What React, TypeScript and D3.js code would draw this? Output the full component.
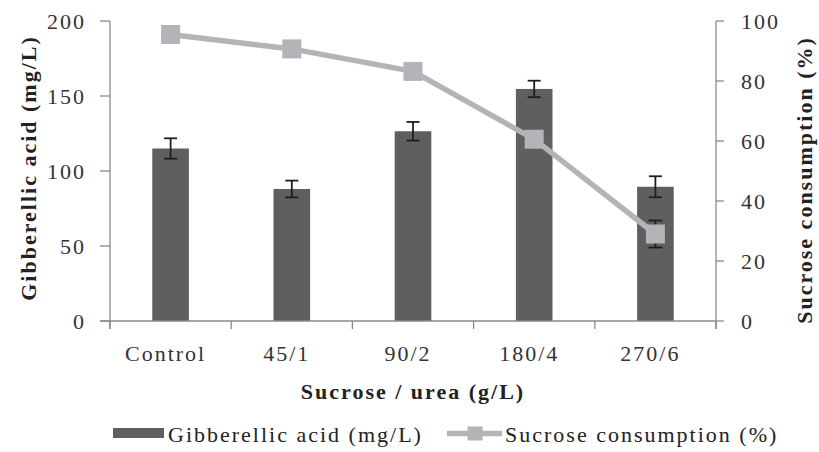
import React from "react";
import * as d3 from "d3";

const categories = ["Control", "45/1", "90/2", "180/4", "270/6"];
const gaValues = [115, 88, 126.5, 154.7, 89.5];
const gaErrors = [6.8, 5.6, 6.2, 5.5, 7];
const sucroseValues = [95.5, 90.7, 83.2, 60.6, 29];
const sucroseErrors = [1, 1, 1.5, 2, 4.5];
const leftTicks = [0, 50, 100, 150, 200];
const rightTicks = [0, 20, 40, 60, 80, 100];

const W = 819;
const H = 452;
const M = { left: 110, right: 716, top: 21, bottom: 321 };

const FONT = "'Liberation Serif', 'Times New Roman', serif";
const BAR = "#5f5f5f";
const LINE = "#b4b4b8";
const AXIS = "#8a8a8a";
const ERR = "#1e1e1e";

export default function App() {
  const x = d3.scaleBand<string>().domain(categories).range([M.left, M.right]);
  const yL = d3.scaleLinear().domain([0, 200]).range([M.bottom, M.top]);
  const yR = d3.scaleLinear().domain([0, 100]).range([M.bottom, M.top]);
  const barW = 36.6;
  const cx = (c: string) => (x(c) as number) + x.bandwidth() / 2;
  const line = d3
    .line<number>()
    .x((_, i) => cx(categories[i]))
    .y((d) => yR(d));
  const textStyle: React.CSSProperties = {
    fontFamily: FONT,
    fontSize: 22,
    letterSpacing: 2,
    whiteSpace: "pre",
  };
  const boundaries = categories.map((c) => (x(c) as number)).concat([M.right]);

  return (
    <svg
      width={W}
      height={H}
      style={{ position: "absolute", left: 0, top: 0, background: "#fff" }}
    >
      {/* bars */}
      {categories.map((c, i) => (
        <rect
          key={c}
          x={cx(c) - barW / 2}
          y={yL(gaValues[i])}
          width={barW}
          height={M.bottom - yL(gaValues[i])}
          fill={BAR}
        />
      ))}
      {/* bar errors */}
      {categories.map((c, i) => {
        const t = yL(gaValues[i] + gaErrors[i]);
        const b = yL(gaValues[i] - gaErrors[i]);
        return (
          <g key={"e" + c} stroke={ERR} strokeWidth={1.8}>
            <line x1={cx(c)} x2={cx(c)} y1={t} y2={b} />
            <line x1={cx(c) - 6.5} x2={cx(c) + 6.5} y1={t} y2={t} />
            <line x1={cx(c) - 6.5} x2={cx(c) + 6.5} y1={b} y2={b} />
          </g>
        );
      })}
      {/* axes */}
      <g stroke={AXIS} strokeWidth={1.3} fill="none">
        <line x1={M.left} x2={M.left} y1={M.top} y2={M.bottom + 8} />
        <line x1={M.right} x2={M.right} y1={M.top} y2={M.bottom + 8} />
        <line x1={M.left - 10} x2={M.right} y1={M.bottom} y2={M.bottom} />
        {leftTicks.map((t) => (
          <line key={"lt" + t} x1={M.left - 10} x2={M.left} y1={yL(t)} y2={yL(t)} />
        ))}
        {rightTicks.map((t) => (
          <line key={"rt" + t} x1={M.right} x2={M.right + 8} y1={yR(t)} y2={yR(t)} />
        ))}
        {boundaries.map((b, i) => (
          <line key={"bt" + i} x1={b} x2={b} y1={M.bottom} y2={M.bottom + 8} />
        ))}
      </g>
      {/* sucrose line */}
      <path d={line(sucroseValues) || ""} fill="none" stroke={LINE} strokeWidth={5.5} />
      {categories.map((c, i) => {
        const t = yR(sucroseValues[i] + sucroseErrors[i]);
        const b = yR(sucroseValues[i] - sucroseErrors[i]);
        return (
          <g key={"le" + c} stroke={ERR} strokeWidth={1.8}>
            <line x1={cx(c)} x2={cx(c)} y1={t} y2={b} />
            <line x1={cx(c) - 7} x2={cx(c) + 7} y1={t} y2={t} />
            <line x1={cx(c) - 7} x2={cx(c) + 7} y1={b} y2={b} />
          </g>
        );
      })}
      {categories.map((c, i) => (
        <rect
          key={"m" + c}
          x={cx(c) - 9.5}
          y={yR(sucroseValues[i]) - 9.5}
          width={19}
          height={19}
          fill={LINE}
        />
      ))}
      {/* tick labels */}
      <g style={textStyle} fill="#333">
        {leftTicks.map((t) => (
          <text key={"ll" + t} x={86} y={yL(t)} dy="0.35em" textAnchor="end">
            {t}
          </text>
        ))}
        {rightTicks.map((t) => (
          <text key={"rl" + t} x={741} y={yR(t)} dy="0.35em" textAnchor="start">
            {t}
          </text>
        ))}
        {categories.map((c) => (
          <text key={"cl" + c} x={cx(c) - 5} y={361} textAnchor="middle">
            {c}
          </text>
        ))}
      </g>
      {/* axis titles */}
      <g style={{ ...textStyle, fontWeight: "bold" }} fill="#222">
        <text x={413} y={399} textAnchor="middle">
          Sucrose / urea (g/L)
        </text>
        <text transform="translate(36,168) rotate(-90)" textAnchor="middle">
          {"Gibberellic  acid (mg/L)"}
        </text>
        <text transform="translate(812,180) rotate(-90)" textAnchor="middle">
          {"Sucrose consumption  (%)"}
        </text>
      </g>
      {/* legend */}
      <g style={textStyle} fill="#222">
        <rect x={113} y={428} width={51} height={10} fill={BAR} />
        <text x={168} y={442}>
          Gibberellic acid (mg/L)
        </text>
        <line x1={447} x2={502} y1={433.5} y2={433.5} stroke={LINE} strokeWidth={5.5} />
        <rect x={467.5} y={426.5} width={15} height={14} fill={LINE} />
        <text x={505} y={442}>
          Sucrose consumption (%)
        </text>
      </g>
    </svg>
  );
}
